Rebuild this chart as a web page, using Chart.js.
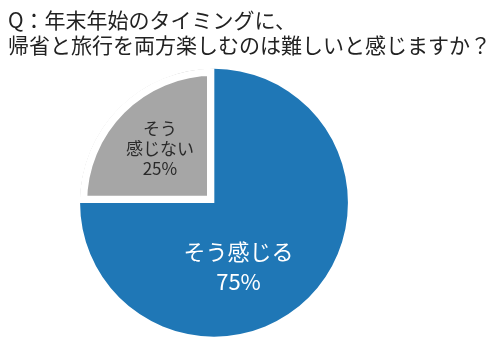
<!DOCTYPE html>
<html lang="ja">
<head>
<meta charset="utf-8">
<script src="https://cdn.jsdelivr.net/npm/chart.js@4"></script>
<style>
  html, body { margin: 0; padding: 0; background: #fff; }
  #wrap { position: relative; width: 500px; height: 351px; }
  #title {
    position: absolute; left: 8px; top: 7px;
    font-family: "Noto Sans CJK JP", "Noto Sans", sans-serif;
    font-size: 21px; line-height: 25px; color: #222;
    white-space: nowrap;
  }
</style>
</head>
<body>
<div id="wrap">
  <canvas id="pie"></canvas>
  <div id="title"></div>
</div>
<script>
// data
const categories = ['そう感じる', 'そう感じない'];
const values = [75, 25];
const sliceLabels = [['そう感じる', '75%'], ['そう', '感じない', '25%']];
const titleLines = ['Q：年末年始のタイミングに、', '帰省と旅行を両方楽しむのは難しいと感じますか？'];

// styles
const sliceColors = ['#1f77b6', '#a6a6a6'];
const labelColors = ['#ffffff', '#2a2a2a'];
const labelFont = [22, 17];
const labelLineGap = [30, 20];
// label position: angle (deg, canvas) and distance as fraction of radius
const labelAngle = [69, 225];
const labelDist = [0.51, 0.57];

const FONT = '"Noto Sans CJK JP", "Noto Sans", sans-serif';

document.getElementById('title').innerHTML = titleLines.join('<br>');

const sliceText = {
  id: 'sliceText',
  afterDatasetsDraw(chart) {
    const ctx = chart.ctx;
    const meta = chart.getDatasetMeta(0);
    meta.data.forEach((arc, i) => {
      const r = arc.outerRadius;
      const a = labelAngle[i] * Math.PI / 180;
      const cx = arc.x + Math.cos(a) * r * labelDist[i];
      const cy = arc.y + Math.sin(a) * r * labelDist[i];
      const lines = sliceLabels[i];
      const gap = labelLineGap[i];
      ctx.save();
      ctx.fillStyle = labelColors[i];
      ctx.font = `${labelFont[i]}px ${FONT}`;
      ctx.textAlign = 'center';
      ctx.textBaseline = 'middle';
      lines.forEach((t, k) => {
        ctx.fillText(t, cx, cy + (k - (lines.length - 1) / 2) * gap);
      });
      ctx.restore();
    });
  }
};

new Chart(document.getElementById('pie'), {
  type: 'pie',
  data: {
    labels: categories,
    datasets: [{
      data: values,
      backgroundColor: sliceColors,
      borderColor: ['#ffffff', '#ffffff'],
      borderWidth: [0, 7],
      borderAlign: 'inner',
      borderJoinStyle: 'miter'
    }]
  },
  options: {
    responsive: true,
    maintainAspectRatio: false,
    animation: false,
    layout: { padding: { top: 68.5, bottom: 14, left: 0, right: 72 } },
    plugins: {
      legend: { display: false },
      tooltip: { enabled: false },
      title: { display: false }
    }
  },
  plugins: [sliceText]
});
</script>
</body>
</html>
